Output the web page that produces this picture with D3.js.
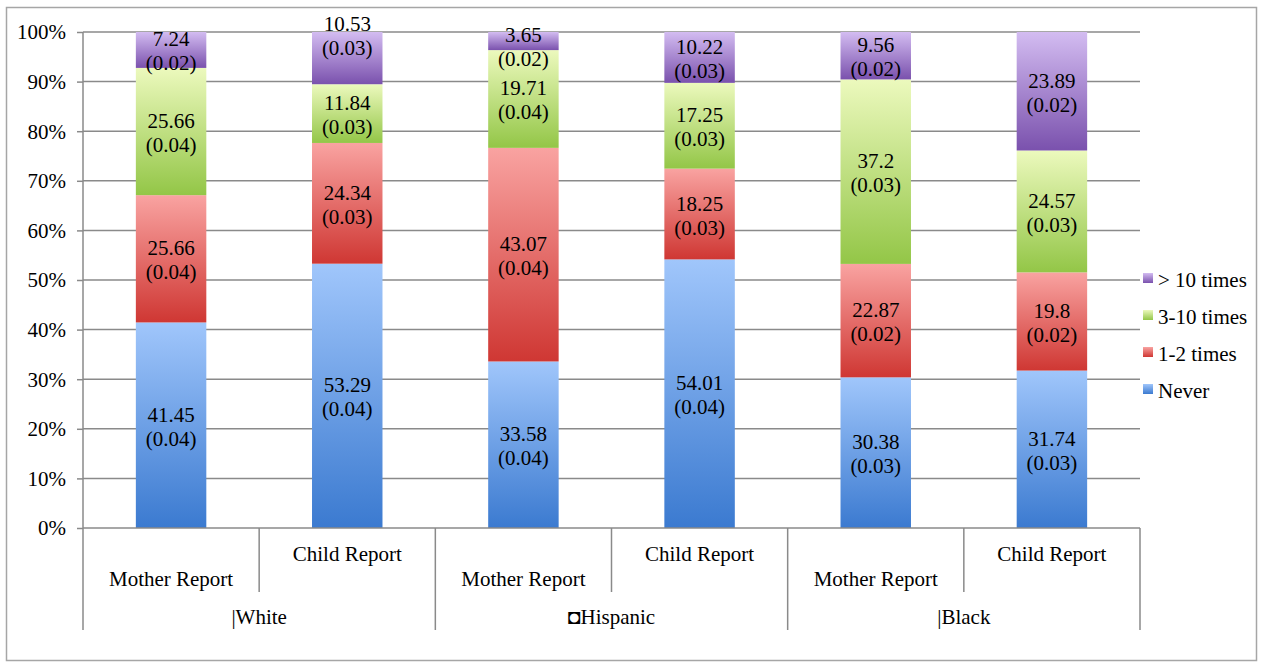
<!DOCTYPE html>
<html>
<head>
<meta charset="utf-8">
<script src="https://cdn.jsdelivr.net/npm/d3@7"></script>
<style>
  html, body { margin: 0; padding: 0; background: #fff; }
  svg { display: block; }
  svg text { font-family: "Liberation Serif", "Tinos", "Times New Roman", "DejaVu Serif", serif !important; fill: #000; }
</style>
</head>
<body>
<svg id="chart" width="1267" height="662"></svg>
<script>
// Reporters (one bar each) and the ethnic groups they are nested in
const reporters = ["Mother Report", "Child Report", "Mother Report", "Child Report", "Mother Report", "Child Report"];
const groups = ["|White", "\u25D8Hispanic", "|Black"];

// Frequency categories, stacked bottom to top
const seriesNames = ["Never", "1-2 times", "3-10 times", "> 10 times"];

// Percentages per bar
const never    = [41.45, 53.29, 33.58, 54.01, 30.38, 31.74];
const oneTwo   = [25.66, 24.34, 43.07, 18.25, 22.87, 19.8];
const threeTen = [25.66, 11.84, 19.71, 17.25, 37.2, 24.57];
const overTen  = [7.24, 10.53, 3.65, 10.22, 9.56, 23.89];

// Standard errors shown under each percentage
const neverSE    = [0.04, 0.04, 0.04, 0.04, 0.03, 0.03];
const oneTwoSE   = [0.04, 0.03, 0.04, 0.03, 0.02, 0.02];
const threeTenSE = [0.04, 0.03, 0.04, 0.03, 0.03, 0.03];
const overTenSE  = [0.02, 0.03, 0.02, 0.03, 0.02, 0.02];

const yTicks = [0, 0.1, 0.2, 0.3, 0.4, 0.5, 0.6, 0.7, 0.8, 0.9, 1.0];

const seriesValues = [never, oneTwo, threeTen, overTen];
const seriesSE = [neverSE, oneTwoSE, threeTenSE, overTenSE];

// Gradient stops (top, bottom) for each series
const gradients = [
  ["#a0c6fb", "#3b7ad0"],
  ["#f9a3a1", "#cf3733"],
  ["#ecf9bd", "#93c647"],
  ["#d3bcf1", "#7a51ad"]
];

// Hand-placed label offsets for a couple of crowded top segments
const labelNudge = { "1-3": -24, "2-3": 4 };

const FONT = "'Liberation Serif', Tinos, 'Times New Roman', 'DejaVu Serif', serif";

const svg = d3.select("#chart").attr("font-family", FONT);
const margin = { left: 83, right: 1140, top: 32, bottom: 528 };

// Outer frame
svg.append("rect")
  .attr("x", 6.5).attr("y", 7.5)
  .attr("width", 1250).attr("height", 653)
  .attr("fill", "none").attr("stroke", "#a6a6a6").attr("stroke-width", 1.5);

const x = d3.scaleBand()
  .domain(d3.range(reporters.length))
  .range([margin.left, margin.right])
  .paddingInner(0.6)
  .paddingOuter(0.3);

const y = d3.scaleLinear().domain([0, 1]).range([margin.bottom, margin.top]);

// Gradient definitions
const defs = svg.append("defs");
gradients.forEach((g, i) => {
  const lg = defs.append("linearGradient")
    .attr("id", "grad" + i)
    .attr("x1", 0).attr("y1", 0).attr("x2", 0).attr("y2", 1);
  lg.append("stop").attr("offset", "0%").attr("stop-color", g[0]);
  lg.append("stop").attr("offset", "100%").attr("stop-color", g[1]);
});

const axisColor = "#8a8a8a";

// Horizontal gridlines
svg.append("g")
  .selectAll("line")
  .data(yTicks.filter(t => t > 0))
  .join("line")
  .attr("x1", margin.left).attr("x2", margin.right)
  .attr("y1", d => y(d)).attr("y2", d => y(d))
  .attr("stroke", axisColor).attr("stroke-width", 1.5);

// Stack data (normalised to 100% per bar)
const rows = reporters.map((r, i) => {
  const o = { idx: i };
  seriesNames.forEach((s, k) => { o[s] = seriesValues[k][i]; });
  return o;
});
const stacked = d3.stack().keys(seriesNames).offset(d3.stackOffsetExpand)(rows);

const layers = svg.append("g")
  .selectAll("g")
  .data(stacked)
  .join("g")
  .attr("fill", (d, k) => `url(#grad${k})`);

layers.selectAll("rect")
  .data(d => d)
  .join("rect")
  .attr("x", d => x(d.data.idx))
  .attr("width", x.bandwidth())
  .attr("y", d => y(d[1]))
  .attr("height", d => y(d[0]) - y(d[1]));

// Value labels: percentage and standard error
const labels = svg.append("g").attr("font-size", 21).attr("text-anchor", "middle");
stacked.forEach((layer, k) => {
  layer.forEach(d => {
    const i = d.data.idx;
    const cx = x(i) + x.bandwidth() / 2;
    const cy = (y(d[0]) + y(d[1])) / 2 + (labelNudge[i + "-" + k] || 0);
    labels.append("text")
      .attr("x", cx).attr("y", cy - 3.5)
      .text(String(seriesValues[k][i]));
    labels.append("text")
      .attr("x", cx).attr("y", cy + 20.5)
      .text("(" + seriesSE[k][i].toFixed(2) + ")");
  });
});

// Y axis
const yAxis = d3.axisLeft(y)
  .tickValues(yTicks)
  .tickFormat(d3.format(".0%"))
  .tickSize(6)
  .tickSizeOuter(0)
  .tickPadding(11);
const yg = svg.append("g")
  .attr("transform", `translate(${margin.left},0)`)
  .call(yAxis)
  .attr("font-family", FONT)
  .attr("font-size", 21);
yg.select(".domain").remove();
yg.selectAll(".tick line").attr("stroke", axisColor).attr("stroke-width", 1.5);
yg.selectAll(".tick text")
  .attr("fill", "#000")
  .attr("dy", "0.33em");

// Axis lines: vertical axis and baseline
svg.append("line")
  .attr("x1", margin.left).attr("x2", margin.left)
  .attr("y1", margin.top).attr("y2", 630)
  .attr("stroke", axisColor).attr("stroke-width", 1.5);
svg.append("line")
  .attr("x1", margin.left).attr("x2", margin.right)
  .attr("y1", margin.bottom).attr("y2", margin.bottom)
  .attr("stroke", axisColor).attr("stroke-width", 1.5);

// Category separators: short between reporters, long between groups
const step = x.step();
d3.range(1, reporters.length + 1).forEach(i => {
  const xx = margin.left + i * step;
  svg.append("line")
    .attr("x1", xx).attr("x2", xx)
    .attr("y1", margin.bottom)
    .attr("y2", i % 2 === 0 ? 630 : 592)
    .attr("stroke", axisColor).attr("stroke-width", 1.5);
});

// Reporter labels (staggered)
svg.append("g")
  .attr("font-size", 21).attr("text-anchor", "middle")
  .selectAll("text")
  .data(reporters)
  .join("text")
  .attr("x", (d, i) => x(i) + x.bandwidth() / 2)
  .attr("y", (d, i) => i % 2 === 0 ? 586 : 561)
  .text(d => d);

// Group labels
svg.append("g")
  .attr("font-size", 21).attr("text-anchor", "middle")
  .selectAll("text")
  .data(groups)
  .join("text")
  .attr("x", (d, g) => margin.left + (2 * g + 1) * step)
  .attr("y", 624)
  .text(d => d);

// Legend, listed top series first
const legend = svg.append("g").attr("font-size", 21);
seriesNames.slice().reverse().forEach((name, j) => {
  const k = seriesNames.length - 1 - j;
  const cy = 278 + j * 37;
  legend.append("rect")
    .attr("x", 1143).attr("y", cy - 5)
    .attr("width", 10).attr("height", 10)
    .attr("fill", `url(#grad${k})`);
  legend.append("text")
    .attr("x", 1158).attr("y", cy + 8.5)
    .text(name);
});
</script>
</body>
</html>
